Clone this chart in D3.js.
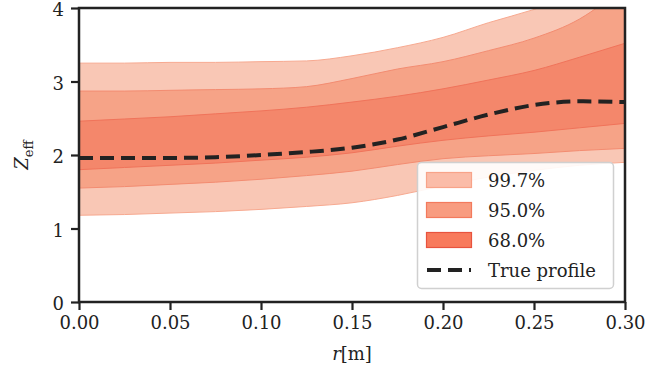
<!DOCTYPE html>
<html>
<head>
<meta charset="utf-8">
<script src="https://cdn.jsdelivr.net/npm/d3@7"></script>
<style>
  body { margin: 0; background: #fff; }
  text { font-family: 'DejaVu Serif', serif; fill: #222; }
</style>
</head>
<body>
<svg id="chart" width="667" height="379"></svg>
<script>
const radius = [0, 0.025, 0.05, 0.075, 0.10, 0.125, 0.15, 0.175, 0.20, 0.225, 0.25, 0.275, 0.30]
const trueProfile = [1.96, 1.96, 1.96, 1.97, 2.0, 2.04, 2.1, 2.21, 2.38, 2.55, 2.68, 2.73, 2.72]
const lo68 = [1.80, 1.83, 1.86, 1.89, 1.93, 1.97, 2.03, 2.12, 2.20, 2.26, 2.31, 2.37, 2.43]
const hi68 = [2.46, 2.49, 2.52, 2.56, 2.60, 2.65, 2.72, 2.80, 2.90, 3.02, 3.15, 3.33, 3.52]
const lo95 = [1.55, 1.57, 1.60, 1.63, 1.67, 1.72, 1.78, 1.87, 1.95, 1.99, 2.02, 2.06, 2.09]
const hi95 = [2.87, 2.87, 2.88, 2.89, 2.90, 2.93, 3.04, 3.17, 3.27, 3.42, 3.59, 3.85, 4.30]
const lo997 = [1.18, 1.19, 1.21, 1.23, 1.26, 1.30, 1.35, 1.45, 1.58, 1.70, 1.79, 1.86, 1.90]
const hi997 = [3.25, 3.25, 3.26, 3.26, 3.27, 3.28, 3.35, 3.46, 3.60, 3.80, 3.98, 4.20, 4.40]

const xTicks = [0, 0.05, 0.10, 0.15, 0.20, 0.25, 0.30]
const yTicks = [0, 1, 2, 3, 4]
const legendLabels = ['99.7%', '95.0%', '68.0%', 'True profile']

const svg = d3.select('#chart')
const plotLeft = 79, plotRight = 625, plotTop = 8, plotBottom = 302

const x = d3.scaleLinear().domain([0, 0.30]).range([plotLeft, plotRight])
const y = d3.scaleLinear().domain([0, 4]).range([plotBottom, plotTop])

svg.append('defs').append('clipPath').attr('id', 'plot')
  .append('rect')
  .attr('x', plotLeft).attr('y', plotTop)
  .attr('width', plotRight - plotLeft).attr('height', plotBottom - plotTop)

const plot = svg.append('g').attr('clip-path', 'url(#plot)')

const area = (lo, hi) => d3.area()
  .x((_, i) => x(radius[i]))
  .y0((_, i) => y(lo[i]))
  .y1((_, i) => y(hi[i]))
  .curve(d3.curveMonotoneX)(radius)

const bands = [
  { lo: lo997, hi: hi997, fill: '#f9c7b5', stroke: '#f7a990' },
  { lo: lo95, hi: hi95, fill: '#f6a387', stroke: '#f38c71' },
  { lo: lo68, hi: hi68, fill: '#f4876b', stroke: '#f0735a' }
]

bands.forEach((b) => {
  plot.append('path')
    .attr('d', area(b.lo, b.hi))
    .attr('fill', b.fill)
    .attr('stroke', b.stroke)
    .attr('stroke-width', 1)
})

plot.append('path')
  .attr('d', d3.line()
    .x((_, i) => x(radius[i]))
    .y((d) => y(d))
    .curve(d3.curveMonotoneX)(trueProfile))
  .attr('fill', 'none')
  .attr('stroke', '#222')
  .attr('stroke-width', 4)
  .attr('stroke-dasharray', '14 7')

// axes
const xAxis = svg.append('g')
  .attr('transform', `translate(0,${plotBottom})`)
  .call(d3.axisBottom(x).tickValues(xTicks).tickFormat(d3.format('.2f')).tickSize(8).tickPadding(6))
const yAxis = svg.append('g')
  .attr('transform', `translate(${plotLeft},0)`)
  .call(d3.axisLeft(y).tickValues(yTicks).tickFormat(d3.format('d')).tickSize(8).tickPadding(7))

;[xAxis, yAxis].forEach((g) => {
  g.select('.domain').remove()
  g.selectAll('.tick line').attr('stroke', '#222').attr('stroke-width', 2.2)
  g.selectAll('.tick text')
    .attr('font-family', 'DejaVu Serif')
    .attr('font-size', 18)
    .attr('fill', '#222')
})
yAxis.selectAll('.tick text').attr('dy', '0.42em')

svg.append('rect')
  .attr('x', plotLeft).attr('y', plotTop)
  .attr('width', plotRight - plotLeft).attr('height', plotBottom - plotTop)
  .attr('fill', 'none')
  .attr('stroke', '#222')
  .attr('stroke-width', 2.5)

// axis labels
svg.append('text')
  .attr('x', (plotLeft + plotRight) / 2)
  .attr('y', 360)
  .attr('text-anchor', 'middle')
  .attr('font-size', 18)
  .html('<tspan font-style="italic">r</tspan>[m]')

svg.append('text')
  .attr('transform', `translate(28,${(plotTop + plotBottom) / 2}) rotate(-90)`)
  .attr('text-anchor', 'middle')
  .attr('font-size', 18)
  .html('<tspan font-style="italic">Z</tspan><tspan font-size="13" dy="5">eff</tspan>')

// legend
const legend = svg.append('g')
legend.append('rect')
  .attr('x', 417.5).attr('y', 162.5)
  .attr('width', 196).attr('height', 126)
  .attr('rx', 4)
  .attr('fill', '#fff')
  .attr('fill-opacity', 0.9)
  .attr('stroke', '#d0d0d0')
  .attr('stroke-width', 1.5)

const patchStyles = [
  { fill: '#fbbca8', stroke: '#f8a389' },
  { fill: '#f89c80', stroke: '#f37a5d' },
  { fill: '#f87a5c', stroke: '#e8533e' }
]

legendLabels.forEach((label, i) => {
  const cy = 180 + i * 30
  if (i < 3) {
    legend.append('rect')
      .attr('x', 426.5).attr('y', cy - 7.5)
      .attr('width', 45).attr('height', 15)
      .attr('fill', patchStyles[i].fill)
      .attr('stroke', patchStyles[i].stroke)
      .attr('stroke-width', 1.2)
  } else {
    legend.append('line')
      .attr('x1', 427).attr('x2', 471)
      .attr('y1', cy).attr('y2', cy)
      .attr('stroke', '#222')
      .attr('stroke-width', 4)
      .attr('stroke-dasharray', '14 7')
  }
  legend.append('text')
    .attr('x', 488)
    .attr('y', cy + 6.5)
    .attr('font-size', 18)
    .text(label)
})
</script>
</body>
</html>
